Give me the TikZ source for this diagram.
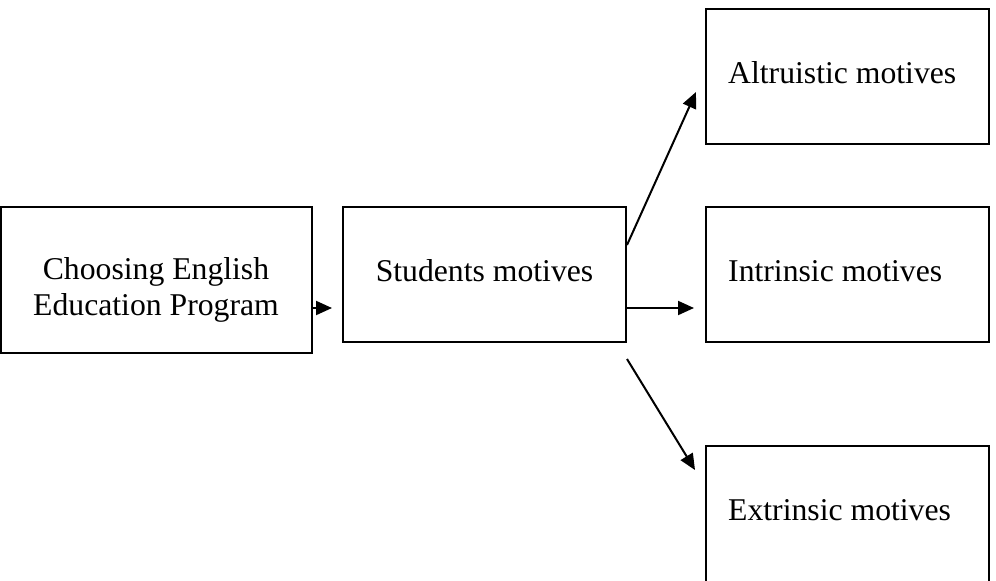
\documentclass[tikz,border=0pt]{standalone}
\usepackage{fontspec}
\setmainfont{Liberation Serif}
\usetikzlibrary{arrows.meta}

\begin{document}
\begin{tikzpicture}[x=1pt, y=-1pt,
    box/.style={draw, line width=2pt, minimum width=283pt, minimum height=135pt, inner sep=0pt},
    txt/.style={font=\fontsize{31.7}{36}\selectfont, inner sep=0pt},
    arr/.style={-{Triangle[length=16pt, width=14pt]}, line width=2pt}]
    \useasboundingbox (0,0) rectangle (996,581);
    % boxes
    \node[box, minimum width=311pt, minimum height=146pt] (choose) at (156.5,280) {};
    \node[box] (motives) at (484.5,274.5) {};
    \node[box] (altru) at (847.5,76.5) {};
    \node[box] (intri) at (847.5,274.5) {};
    \node[box, minimum height=139pt] (extri) at (847.5,515.5) {};
    % texts
    \node[txt, anchor=base, align=center] (chooseTxt) at (156,315) {Choosing English\\Education Program};
    \node[txt, anchor=base] (motivesTxt) at (484.5,281) {Students motives};
    \node[txt, anchor=base west] (altruTxt) at (728,83) {Altruistic motives};
    \node[txt, anchor=base west] (intriTxt) at (728,281) {Intrinsic motives};
    \node[txt, anchor=base west] (extriTxt) at (728,520) {Extrinsic motives};
    % arrows
    \draw[arr, shorten >=10pt] ([yshift=-28pt]choose.east) -- ([yshift=-28pt]choose.east -| motives.west);
    \draw[arr] ([yshift=29.5pt]motives.east) -- ([xshift=-9pt, yshift=-15.5pt]altru.west);
    \draw[arr, shorten >=11pt] ([yshift=-33.5pt]motives.east) -- ([yshift=-33.5pt]intri.west);
    \draw[arr] ([yshift=-16pt]motives.south east) -- ([xshift=-10pt, yshift=-25pt]extri.north west);
\end{tikzpicture}
\end{document}
